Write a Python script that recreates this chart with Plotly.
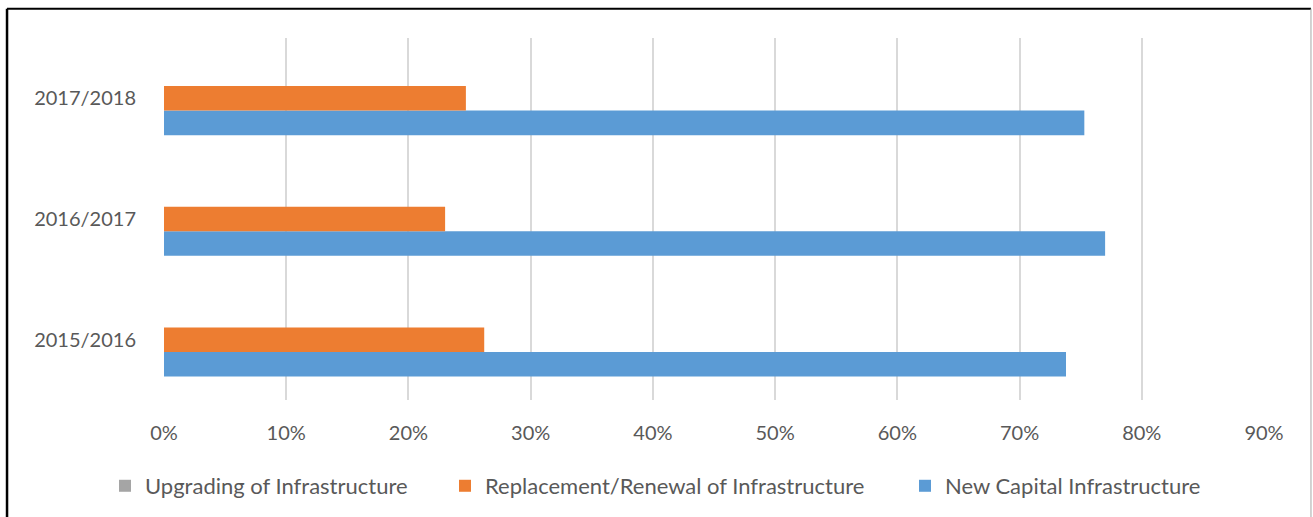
import plotly.graph_objects as go

categories = ["2015/2016", "2016/2017", "2017/2018"]
upgrading = [0.0, 0.0, 0.0]
replacement = [0.262, 0.230, 0.247]
new_capital = [0.738, 0.770, 0.753]
x_ticks = [0, 0.1, 0.2, 0.3, 0.4, 0.5, 0.6, 0.7, 0.8, 0.9]
x_tick_labels = ["0%", "10%", "20%", "30%", "40%", "50%", "60%", "70%", "80%", "90%"]

FONT = "Lato, Open Sans, sans-serif"
TXT = "#595959"
W = 1313

fig = go.Figure()
fig.add_trace(go.Bar(y=categories, x=new_capital, orientation="h",
                     name="New Capital Infrastructure", legend="legend3",
                     marker=dict(color="#5B9BD5", line=dict(width=0))))
fig.add_trace(go.Bar(y=categories, x=replacement, orientation="h",
                     name="Replacement/Renewal of Infrastructure", legend="legend2",
                     marker=dict(color="#ED7D31", line=dict(width=0))))
fig.add_trace(go.Bar(y=categories, x=upgrading, orientation="h",
                     name="Upgrading of Infrastructure", legend="legend",
                     marker=dict(color="#A5A5A5", line=dict(width=0))))

def leg(xpx):
    return dict(orientation="h", xref="container", x=xpx / W, xanchor="left",
                yref="container", y=0.06, yanchor="middle",
                font=dict(size=22, color=TXT), itemwidth=30,
                bgcolor="rgba(0,0,0,0)")

fig.update_layout(
    width=W, height=517,
    margin=dict(l=164, r=49, t=38, b=117),
    paper_bgcolor="white", plot_bgcolor="white",
    barmode="group", bargap=0.39, bargroupgap=0,
    font=dict(family=FONT, size=20, color=TXT),
    xaxis=dict(range=[0, 0.9], tickvals=x_ticks, ticktext=x_tick_labels,
               showgrid=True, gridcolor="#D9D9D9", gridwidth=1.5,
               zeroline=False, showline=False, ticks="",
               tickfont=dict(size=20, color=TXT), ticklabelstandoff=19),
    yaxis=dict(showgrid=False, zeroline=False, showline=False, ticks="",
               tickfont=dict(size=20, color=TXT), ticklabelstandoff=27),
    legend=leg(105),
    legend2=leg(445),
    legend3=leg(905),
    showlegend=True,
)

# chart border
fig.add_shape(type="line", xref="paper", yref="paper",
              x0=-0.1427, x1=1.0427, y0=1.081, y1=1.081,
              line=dict(color="black", width=2))
fig.add_shape(type="line", xref="paper", yref="paper",
              x0=-0.1427, x1=-0.1427, y0=1.081, y1=-0.35,
              line=dict(color="black", width=2.5))
fig.add_shape(type="line", xref="paper", yref="paper",
              x0=1.0427, x1=1.0427, y0=1.081, y1=-0.35,
              line=dict(color="#A6A6A6", width=1))

fig.write_html("out.html")
